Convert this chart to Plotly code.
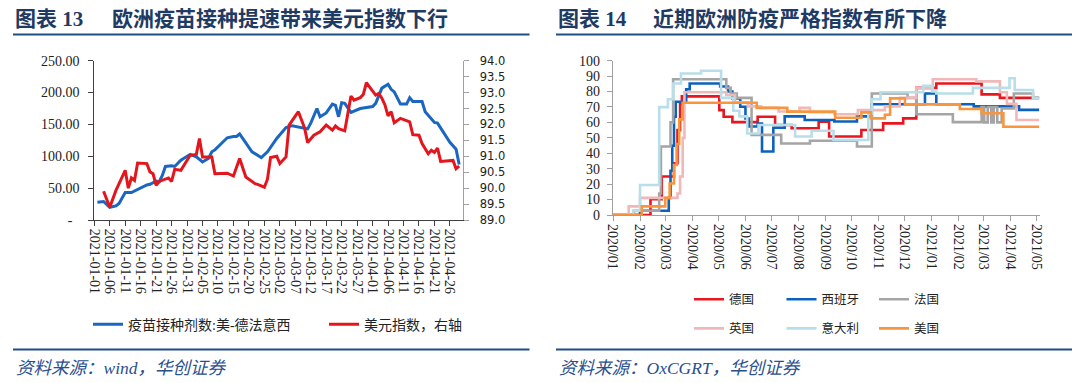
import plotly.graph_objects as go

# ---------------- Chart 13 data ----------------
vacc_dates = ["2021-01-02", "2021-01-04", "2021-01-06", "2021-01-08", "2021-01-09", "2021-01-11",
              "2021-01-13", "2021-01-15", "2021-01-16", "2021-01-18", "2021-01-19", "2021-01-20",
              "2021-01-21", "2021-01-22", "2021-01-23", "2021-01-24", "2021-01-26", "2021-01-27",
              "2021-01-29", "2021-01-30", "2021-02-01", "2021-02-03", "2021-02-05", "2021-02-07",
              "2021-02-08", "2021-02-09", "2021-02-11", "2021-02-13", "2021-02-15", "2021-02-16",
              "2021-02-17", "2021-02-18", "2021-02-19", "2021-02-21", "2021-02-24", "2021-02-26",
              "2021-03-01", "2021-03-04", "2021-03-06", "2021-03-08", "2021-03-11", "2021-03-12",
              "2021-03-14", "2021-03-15", "2021-03-17", "2021-03-19", "2021-03-20", "2021-03-21",
              "2021-03-22", "2021-03-23", "2021-03-25", "2021-03-28", "2021-03-31", "2021-04-01",
              "2021-04-02", "2021-04-04", "2021-04-06", "2021-04-07", "2021-04-08", "2021-04-10",
              "2021-04-12", "2021-04-13", "2021-04-14", "2021-04-17", "2021-04-18", "2021-04-21",
              "2021-04-22", "2021-04-24", "2021-04-26", "2021-04-28", "2021-04-29"]
vacc_values = [28, 29, 20, 22, 26, 43,
               43, 48, 51, 55, 56, 58,
               61, 60, 70, 84, 85, 84,
               94, 97, 103, 99, 91, 97,
               107, 110, 120, 129, 131, 131,
               135, 128, 122, 107, 98, 107,
               128, 145, 148, 146, 143, 152,
               175, 162, 168, 182, 180, 162,
               184, 183, 169, 175, 178, 178,
               183, 207, 213, 205, 201, 182,
               182, 192, 186, 186, 170, 153,
               152, 138, 122, 111, 87]

dxy_dates = ["2021-01-04", "2021-01-06", "2021-01-08", "2021-01-09", "2021-01-11", "2021-01-12",
             "2021-01-13", "2021-01-14", "2021-01-15", "2021-01-18", "2021-01-19", "2021-01-20",
             "2021-01-21", "2021-01-22", "2021-01-25", "2021-01-26", "2021-01-27", "2021-01-29",
             "2021-02-01", "2021-02-03", "2021-02-04", "2021-02-05", "2021-02-08", "2021-02-09",
             "2021-02-12", "2021-02-13", "2021-02-15", "2021-02-17", "2021-02-19", "2021-02-22",
             "2021-02-23", "2021-02-25", "2021-02-26", "2021-02-27", "2021-03-01", "2021-03-02",
             "2021-03-04", "2021-03-05", "2021-03-08", "2021-03-10", "2021-03-11", "2021-03-13",
             "2021-03-15", "2021-03-16", "2021-03-17", "2021-03-19", "2021-03-20", "2021-03-21",
             "2021-03-23", "2021-03-24", "2021-03-25", "2021-03-26", "2021-03-28", "2021-03-29",
             "2021-03-30", "2021-03-31", "2021-04-02", "2021-04-03", "2021-04-04", "2021-04-05",
             "2021-04-06", "2021-04-07", "2021-04-08", "2021-04-10", "2021-04-12", "2021-04-13",
             "2021-04-14", "2021-04-16", "2021-04-17", "2021-04-19", "2021-04-20", "2021-04-21",
             "2021-04-22", "2021-04-23", "2021-04-27", "2021-04-28", "2021-04-29"]
dxy_values = [89.90, 89.40, 89.93, 90.14, 90.56, 90.00,
              90.32, 90.24, 90.79, 90.77, 90.51, 90.45,
              90.09, 90.21, 90.32, 90.21, 90.59, 90.56,
              91.03, 91.06, 91.56, 90.98, 90.98, 90.45,
              90.45, 90.47, 90.38, 90.93, 90.35, 90.14,
              90.11, 90.03, 90.28, 90.96, 91.00, 90.77,
              90.98, 91.98, 92.40, 91.89, 91.43, 91.66,
              91.77, 91.87, 91.98, 91.82, 91.95, 91.87,
              91.80, 92.34, 92.89, 92.76, 92.84, 92.94,
              93.31, 93.18, 92.92, 92.97, 92.82, 92.61,
              92.27, 92.40, 92.05, 92.19, 92.13, 92.08,
              91.68, 91.66, 91.40, 91.08, 91.19, 91.12,
              91.26, 90.84, 90.87, 90.61, 90.69]

left_ticks = [0, 50, 100, 150, 200, 250]
left_ticktext = ["-\u00a0\u00a0", "50.00", "100.00", "150.00", "200.00", "250.00"]

# ---------------- Chart 14 data (stringency index, step series) ----------------
de_dates = ["2020-01-01", "2020-02-13", "2020-02-26", "2020-03-11", "2020-03-15", "2020-03-18",
            "2020-03-20", "2020-05-02", "2020-05-07", "2020-05-17", "2020-06-15", "2020-07-05",
            "2020-07-24", "2020-08-24", "2020-09-05", "2020-10-12", "2020-11-06", "2020-11-29",
            "2020-12-14", "2021-01-06", "2021-02-27", "2021-03-20", "2021-05-04"]
de_values = [0, 10.2, 25.0, 33.5, 55.0, 72.0,
             76.9, 68.0, 63.7, 60.2, 63.7, 58.3,
             56.2, 60.5, 50.9, 55.1, 59.4, 62.6,
             82.4, 85.2, 78.2, 75.9, 75.9]

es_dates = ["2020-01-01", "2020-02-01", "2020-03-05", "2020-03-07", "2020-03-09", "2020-03-11",
            "2020-03-13", "2020-03-25", "2020-03-29", "2020-05-03", "2020-05-12", "2020-05-17",
            "2020-05-26", "2020-06-01", "2020-06-05", "2020-06-15", "2020-06-20", "2020-07-03",
            "2020-07-16", "2020-08-08", "2020-09-11", "2020-10-07", "2020-10-24", "2020-12-24",
            "2021-01-06", "2021-02-18", "2021-04-11", "2021-05-04"]
es_values = [0, 2.8, 11.1, 28.7, 44.9, 63.7,
             73.4, 81.5, 85.2, 83.3, 80.0, 75.6,
             70.2, 62.5, 57.4, 59.3, 41.2, 56.5,
             63.9, 61.6, 60.6, 63.9, 71.8, 78.7,
             71.8, 70.4, 68.1, 68.1]

fr_dates = ["2020-01-01", "2020-01-25", "2020-02-23", "2020-02-25", "2020-03-07", "2020-03-10",
            "2020-05-10", "2020-05-15", "2020-05-22", "2020-06-08", "2020-07-12", "2020-08-14",
            "2020-10-07", "2020-10-24", "2020-12-04", "2020-12-14", "2021-01-25", "2021-02-27",
            "2021-03-02", "2021-03-06", "2021-03-10", "2021-03-13", "2021-03-17", "2021-03-22",
            "2021-04-05", "2021-04-27", "2021-05-04"]
fr_values = [0, 2.8, 13.9, 44.4, 60.0, 88.0,
             82.4, 78.7, 75.9, 51.9, 46.3, 48.1,
             44.4, 78.7, 75.9, 65.3, 60.2, 70.0,
             60.0, 70.0, 60.0, 70.0, 60.0, 69.0,
             78.7, 75.9, 75.9]

uk_dates = ["2020-01-01", "2020-01-19", "2020-02-01", "2020-03-15", "2020-03-18", "2020-03-21",
            "2020-03-23", "2020-05-10", "2020-05-20", "2020-06-04", "2020-06-19", "2020-07-09",
            "2020-08-02", "2020-08-14", "2020-09-11", "2020-10-08", "2020-11-08", "2020-11-25",
            "2020-12-14", "2021-01-02", "2021-02-21", "2021-03-20", "2021-03-28", "2021-04-08",
            "2021-05-04"]
uk_values = [0, 5.6, 11.1, 13.9, 25.0, 50.0,
             79.6, 77.8, 73.1, 70.4, 69.4, 67.1,
             69.4, 66.7, 65.3, 68.0, 70.4, 75.9,
             82.4, 88.0, 86.6, 79.6, 72.0, 61.6,
             61.6]

it_dates = ["2020-01-01", "2020-01-24", "2020-02-01", "2020-02-23", "2020-03-04", "2020-03-10",
            "2020-03-19", "2020-04-11", "2020-05-04", "2020-05-18", "2020-05-25", "2020-06-03",
            "2020-06-16", "2020-07-28", "2020-08-16", "2020-09-10", "2020-10-20", "2020-10-24",
            "2020-11-03", "2020-12-22", "2021-01-01", "2021-01-06", "2021-02-17", "2021-03-31",
            "2021-04-06", "2021-04-27", "2021-05-04"]
it_values = [0, 2.8, 19.4, 69.9, 75.0, 85.2,
             91.7, 93.5, 75.9, 67.6, 63.9, 52.8,
             58.3, 50.9, 54.6, 48.6, 65.7, 75.0,
             79.6, 83.8, 80.0, 78.7, 82.4, 88.6,
             81.0, 75.9, 75.9]

us_dates = ["2020-01-01", "2020-02-03", "2020-03-01", "2020-03-06", "2020-03-11", "2020-03-14",
            "2020-03-17", "2020-03-21", "2020-06-14", "2020-07-19", "2020-09-12", "2020-10-12",
            "2020-10-23", "2020-11-08", "2020-11-14", "2020-12-01", "2021-02-02", "2021-02-27",
            "2021-03-24", "2021-05-04"]
us_values = [0, 5.6, 11.1, 20.4, 32.4, 46.0,
             62.0, 72.7, 69.4, 67.0, 63.0, 66.5,
             62.6, 65.0, 75.6, 71.7, 68.7, 65.9,
             57.2, 57.2]

right_series = [
    ("德国", de_dates, de_values, "#e8161e", "legend2"),
    ("西班牙", es_dates, es_values, "#0b62be", "legend2"),
    ("法国", fr_dates, fr_values, "#a5a5a5", "legend2"),
    ("英国", uk_dates, uk_values, "#f0b8b8", "legend3"),
    ("意大利", it_dates, it_values, "#b8deea", "legend3"),
    ("美国", us_dates, us_values, "#f7963e", "legend3"),
]

# ---------------- figure ----------------
# The page body has an 8px margin, so figure coords = screen coords - 8
OFF = 8
W, H = 1072, 375


def fx(px):
    return (px - OFF) / W


def fy(py):
    return 1 - (py - OFF) / H


SERIF = "Liberation Serif, Noto Sans CJK SC, serif"
NAVY = "#1f3a63"

fig = go.Figure()

fig.add_trace(go.Scatter(x=vacc_dates, y=vacc_values, mode="lines", name="疫苗接种剂数:美-德法意西",
                         line=dict(color="#1a66c0", width=3), xaxis="x", yaxis="y", legend="legend"))
fig.add_trace(go.Scatter(x=dxy_dates, y=dxy_values, mode="lines", name="美元指数，右轴",
                         line=dict(color="#e3161d", width=3), xaxis="x", yaxis="y2", legend="legend"))

for name, d, v, c, lg in right_series:
    fig.add_trace(go.Scatter(x=d, y=v, mode="lines", name=name, line=dict(color=c, width=2.6, shape="hv"),
                             xaxis="x2", yaxis="y3", legend=lg))

axis_font = dict(family=SERIF, size=14, color="#222222")

fig.update_layout(
    width=W, height=H, autosize=False,
    margin=dict(l=0, r=0, t=0, b=0),
    paper_bgcolor="white", plot_bgcolor="white",
    showlegend=True,
    xaxis=dict(domain=[fx(94.3), fx(463.3)], anchor="y", type="date",
               range=["2021-01-01", "2021-04-30 08:00"],
               tick0="2021-01-01", dtick=5 * 86400000, tickformat="%Y-%m-%d", tickangle=90,
               showline=True, linecolor="#404040", linewidth=1, ticks="outside", ticklen=5,
               tickcolor="#404040", showgrid=False, zeroline=False, tickfont=axis_font,
               automargin=False),
    yaxis=dict(domain=[fy(220), fy(60.7)], anchor="x", range=[0, 250],
               tickvals=left_ticks, ticktext=left_ticktext,
               showline=True, linecolor="#404040", linewidth=1, ticks="outside", ticklen=5,
               tickcolor="#404040", showgrid=False, zeroline=False, tickfont=axis_font,
               ticklabelstandoff=6, automargin=False),
    yaxis2=dict(overlaying="y", side="right", anchor="x", range=[89, 94], dtick=0.5, tick0=89,
                tickformat=".1f", showline=True, linecolor="#a0a0a0", linewidth=1.2, ticks="outside",
                ticklen=5, tickcolor="#a0a0a0", showgrid=False, zeroline=False,
                tickfont=dict(family="DejaVu Sans, Verdana, sans-serif", size=11.5, color="#222222"),
                ticklabelstandoff=8, automargin=False),
    xaxis2=dict(domain=[fx(613), fx(1040)], anchor="y3", type="date",
                range=["2020-01-01", "2021-05-05"],
                tick0="2020-01-01", dtick="M1", tickformat="%Y/%m", tickangle=90,
                showline=True, linecolor="#a0a0a0", linewidth=1.2, ticks="outside", ticklen=5,
                tickcolor="#a0a0a0", showgrid=False, zeroline=False, tickfont=axis_font,
                automargin=False),
    yaxis3=dict(domain=[fy(215), fy(60.7)], anchor="x2", range=[0, 100], dtick=10, tick0=0,
                showline=True, linecolor="#a0a0a0", linewidth=1.2, ticks="outside", ticklen=5,
                tickcolor="#a0a0a0", showgrid=False, zeroline=False, tickfont=axis_font,
                ticklabelstandoff=4, automargin=False),
    legend=dict(orientation="h", x=fx(88), y=fy(324.6), xanchor="left", yanchor="middle",
                entrywidth=191, font=dict(family=SERIF, size=14, color="#222222"),
                bgcolor="rgba(0,0,0,0)"),
    legend2=dict(orientation="h", x=fx(689), y=fy(299.6), xanchor="left", yanchor="middle",
                 entrywidth=47.5, font=dict(family=SERIF, size=12.5, color="#222222"),
                 bgcolor="rgba(0,0,0,0)"),
    legend3=dict(orientation="h", x=fx(689), y=fy(328.7), xanchor="left", yanchor="middle",
                 entrywidth=47.5, font=dict(family=SERIF, size=12.5, color="#222222"),
                 bgcolor="rgba(0,0,0,0)"),
)

annotations = [
    dict(text="<b>图表 13</b>", x=fx(13), y=fy(19), xanchor="left", yanchor="middle",
         font=dict(family=SERIF, size=21, color=NAVY)),
    dict(text="<b>欧洲疫苗接种提速带来美元指数下行</b>", x=fx(110), y=fy(19), xanchor="left",
         yanchor="middle", font=dict(family=SERIF, size=21, color=NAVY)),
    dict(text="<b>图表 14</b>", x=fx(556), y=fy(19), xanchor="left", yanchor="middle",
         font=dict(family=SERIF, size=21, color=NAVY)),
    dict(text="<b>近期欧洲防疫严格指数有所下降</b>", x=fx(651), y=fy(19), xanchor="left",
         yanchor="middle", font=dict(family=SERIF, size=21, color=NAVY)),
    dict(text="<i>资料来源：wind，华创证券</i>", x=fx(14), y=fy(368), xanchor="left", yanchor="middle",
         font=dict(family=SERIF, size=17.5, color="#2a4f8f")),
    dict(text="<i>资料来源：OxCGRT，华创证券</i>", x=fx(557), y=fy(368), xanchor="left",
         yanchor="middle", font=dict(family=SERIF, size=17.5, color="#2a4f8f")),
]
for a in annotations:
    a.update(xref="paper", yref="paper", showarrow=False)
fig.update_layout(annotations=annotations)

shapes = []
for (x0, x1) in [(13, 529.5), (556, 1075)]:
    for yy in (34.6, 349.5):
        shapes.append(dict(type="line", xref="paper", yref="paper", x0=fx(x0), x1=fx(x1),
                           y0=fy(yy), y1=fy(yy), line=dict(color="#1f4e85", width=2)))
fig.update_layout(shapes=shapes)

fig.write_html("out.html")
